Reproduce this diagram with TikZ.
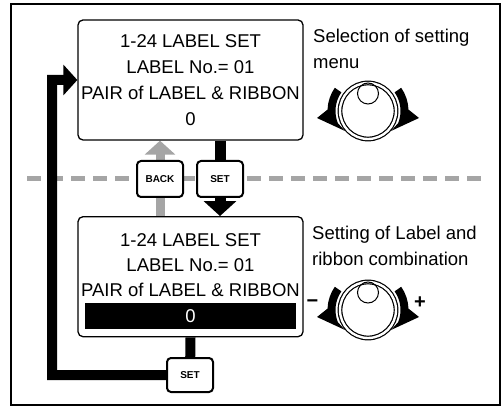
\documentclass[tikz,border=0pt]{standalone}
\usepackage{fontspec}
\setmainfont{Liberation Sans}
\usetikzlibrary{arrows.meta, positioning, calc, backgrounds}
\definecolor{panelgray}{RGB}{165,165,165}

% rotary knob with its two turning arrows
\newcommand{\dialknob}[2]{%
  \begin{scope}[shift={(#1,#2)}]
    \draw[line width=1.2pt, double, double distance=2.4pt] (0,0) circle[radius=28pt];
    \draw[line width=1pt] (0,17.5) circle[radius=10.5pt];
    \fill (145:40.5pt) arc[start angle=145, end angle=178, radius=40.5pt] -- (-51,-7) -- (-23,-20)
      -- (202:32.5pt) arc[start angle=202, end angle=145, radius=32.5pt] -- cycle;
    \fill (35:40.5pt) arc[start angle=35, end angle=2, radius=40.5pt] -- (51,-7) -- (23,-20)
      -- (-22:32.5pt) arc[start angle=-22, end angle=35, radius=32.5pt] -- cycle;
  \end{scope}}

\begin{document}
\begin{tikzpicture}[
    x=1pt, y=1pt,
    screen/.style={rectangle, draw, line width=1.3pt, rounded corners=5pt,
        minimum width=225pt, minimum height=120pt, inner sep=0pt, align=center,
        font=\fontsize{18.5}{26}\selectfont},
    lcdtext/.style={inner sep=0pt, align=center, font=\fontsize{18.5}{25}\selectfont},
    caption/.style={anchor=north west, inner sep=0pt, align=left,
        font=\fontsize{18.5}{26}\selectfont},
    keybtn/.style={rectangle, draw, line width=2pt, rounded corners=4pt, fill=white,
        minimum width=46pt, minimum height=36pt, inner sep=0pt,
        font=\fontsize{10}{12}\selectfont\bfseries},
    sign/.style={inner sep=0pt, font=\fontsize{20}{22}\selectfont\bfseries},
    guide/.style={draw=panelgray, line width=5pt, dash pattern=on 14pt off 8pt},
    backarrow/.style={draw=panelgray, line width=9pt, -{Triangle[length=14pt, width=30pt]}},
    setarrow/.style={draw=black, line width=11pt, -{Triangle[length=15pt, width=32pt]}},
    looparrow/.style={draw=black, line width=10pt, line join=miter,
        -{Triangle[length=14pt, width=30pt]}}
]
\useasboundingbox (0,0) rectangle (503,407);

% === OUTER FRAME ===
\draw[line width=2.2pt] (11,2) rectangle (500,403);

% === MENU SELECTION SCREEN ===
\node[screen] (menubox) at (190.5,327) {
    1-24 LABEL SET\\
    LABEL No.= 01\\
    PAIR of LABEL \& RIBBON\\
    0
};
\node[caption] (selcap) at (313,378.5) {Selection of setting\\menu};

% === SETTING SCREEN ===
\node[screen] (setbox) at (190.5,130.3) {};
\node[lcdtext, anchor=north] (setlines) at (190.5,173.5) {
    1-24 LABEL SET\\
    LABEL No.= 01\\
    PAIR of LABEL \& RIBBON
};
\node[fill=black, text=white, minimum width=211pt, minimum height=26.6pt, inner sep=0pt,
    font=\fontsize{18.5}{22}\selectfont] (setbar) at (190.5,91) {0};
\node[caption] (setcap) at (312,181) {Setting of Label and\\ribbon combination};

% === KEYS ===
\node[keybtn] (backkey) at (160,228) {BACK};
\node[keybtn] (setkey) at (220,228) {SET};
\node[keybtn, minimum height=34pt] (okkey) at (190,32) {SET};
\coordinate (corner) at (52,32);

% Arrows
\begin{scope}[on background layer]
\draw[guide] (27,228) -- (485,228);
\draw[backarrow] (backkey |- setbox.north) -- (backkey |- menubox.south);
\draw[setarrow] (setkey |- menubox.south) -- (setkey |- setbox.north);
\draw[looparrow] (setbox.south) -- (okkey.center) -- (corner) |- (menubox.west);
\end{scope}

% === KNOBS ===
\dialknob{368}{296}
\dialknob{368}{97}
\node[sign] (minus) at (312.5,103) {−};
\node[sign] (plus) at (420,104) {+};

\end{tikzpicture}
\end{document}
